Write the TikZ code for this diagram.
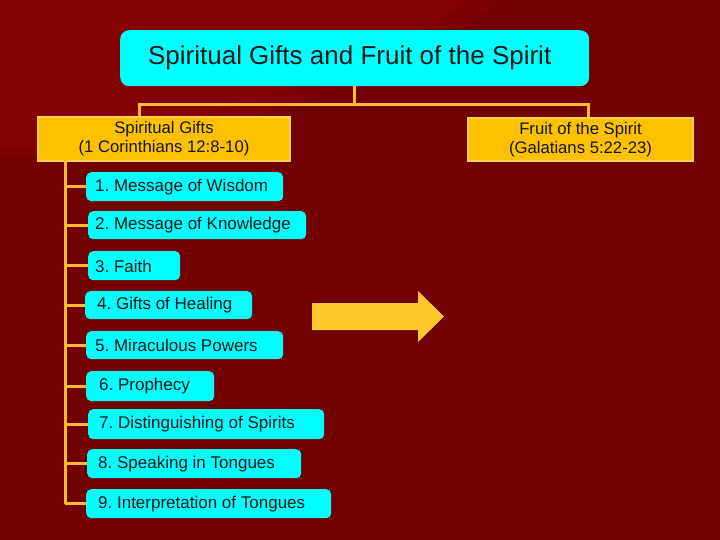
\documentclass[tikz,border=0pt]{standalone}
\usepackage{fontspec}
\setmainfont{Liberation Sans}
\frenchspacing
\definecolor{bgdark}{HTML}{730000}
\definecolor{bglight}{HTML}{850000}
\definecolor{cyanbox}{HTML}{00FFFF}
\definecolor{goldbox}{HTML}{FFC000}
\definecolor{goldedge}{HTML}{FFD34D}
\definecolor{connc}{HTML}{FFBC28}
\definecolor{arrowc}{HTML}{FFC82C}
\definecolor{txt}{HTML}{101818}
\tikzset{
  titlebox/.style={fill=cyanbox, rounded corners=9pt, inner sep=0pt, text=txt,
    font=\fontsize{26}{30}\selectfont, anchor=north west},
  headbox/.style={fill=goldbox, draw=goldedge, line width=2pt, inner sep=0pt, text=txt,
    align=center, font=\fontsize{16.7}{19}\selectfont, anchor=north west},
  itembox/.style={fill=cyanbox, rounded corners=5pt, inner sep=0pt, anchor=north west},
  itemtext/.style={text=txt, inner sep=0pt, anchor=west, font=\fontsize{17}{20}\selectfont},
  conn/.style={draw=connc, line width=3pt},
}
\begin{document}
\begin{tikzpicture}[x=1pt,y=-1pt]
\useasboundingbox (0,0) rectangle (720,540);
% background
\fill[bgdark] (0,0) rectangle (720,540);
\fill[bglight] (0,0) -- (0,150) .. controls (160,140) and (360,80) .. (470,0) -- cycle;
\fill[bglight!50!bgdark] (0,150) .. controls (160,140) and (360,80) .. (470,0) -- (500,0) .. controls (390,90) and (180,150) .. (0,158) -- cycle;

% title
\node[titlebox, minimum width=469pt, minimum height=56pt] (title) at (120,30) {\hspace*{-10pt}\raisebox{-3pt}{Spiritual Gifts and Fruit of the Spirit}};

% headers
\node[headbox, minimum width=252pt, minimum height=44pt] (lh) at (37,116) {Spiritual Gifts\\(1 Corinthians 12:8-10)};
\node[headbox, minimum width=225pt, minimum height=43pt] (rh) at (467,117) {Fruit of the Spirit\\(Galatians 5:22-23)};

% top connectors
\coordinate (busc) at (354,105);
\coordinate (busl) at (139,105);
\coordinate (busr) at (588,105);
\coordinate (lj) at (139,116);
\coordinate (rj) at (588,117);
\draw[conn] (title.south -| busc) -- (busc);
\draw[conn] (lj) -- (busl) -- (busr) -- (rj);

% items
\node[itembox, minimum width=197pt, minimum height=29pt] (i1) at (86,172) {};
\node[itemtext] (t1) at (95,187) {1. Message of Wisdom};
\node[itembox, minimum width=218pt, minimum height=28pt] (i2) at (88,211) {};
\node[itemtext] (t2) at (95,225.5) {2. Message of Knowledge};
\node[itembox, minimum width=92pt, minimum height=29pt] (i3) at (88,251) {};
\node[itemtext] (t3) at (95,266) {3. Faith};
\node[itembox, minimum width=167pt, minimum height=28pt] (i4) at (85,291) {};
\node[itemtext] (t4) at (97,305.5) {4. Gifts of Healing};
\node[itembox, minimum width=197pt, minimum height=28pt] (i5) at (86,331) {};
\node[itemtext] (t5) at (95,345.5) {5. Miraculous Powers};
\node[itembox, minimum width=128pt, minimum height=30pt] (i6) at (86,371) {};
\node[itemtext] (t6) at (99,386.5) {6. Prophecy};
\node[itembox, minimum width=236pt, minimum height=30pt] (i7) at (88,409) {};
\node[itemtext] (t7) at (99,424.5) {7. Distinguishing of Spirits};
\node[itembox, minimum width=214pt, minimum height=29pt] (i8) at (87,449) {};
\node[itemtext] (t8) at (98,464) {8. Speaking in Tongues};
\node[itembox, minimum width=245pt, minimum height=29pt] (i9) at (86,489) {};
\node[itemtext] (t9) at (98,504) {9. Interpretation of Tongues};

% trunk and branches
\coordinate (trunk) at (65,160);
\draw[conn] (trunk) -- (trunk |- i9.west);
\foreach \k in {1,...,9}{
  \draw[conn] (trunk |- i\k.west) -- (i\k.west);
}

% block arrow
\fill[arrowc] (312,303) -- (418,303) -- (418,291) -- (444,316.5) -- (418,342) -- (418,330) -- (312,330) -- cycle;
\end{tikzpicture}
\end{document}
